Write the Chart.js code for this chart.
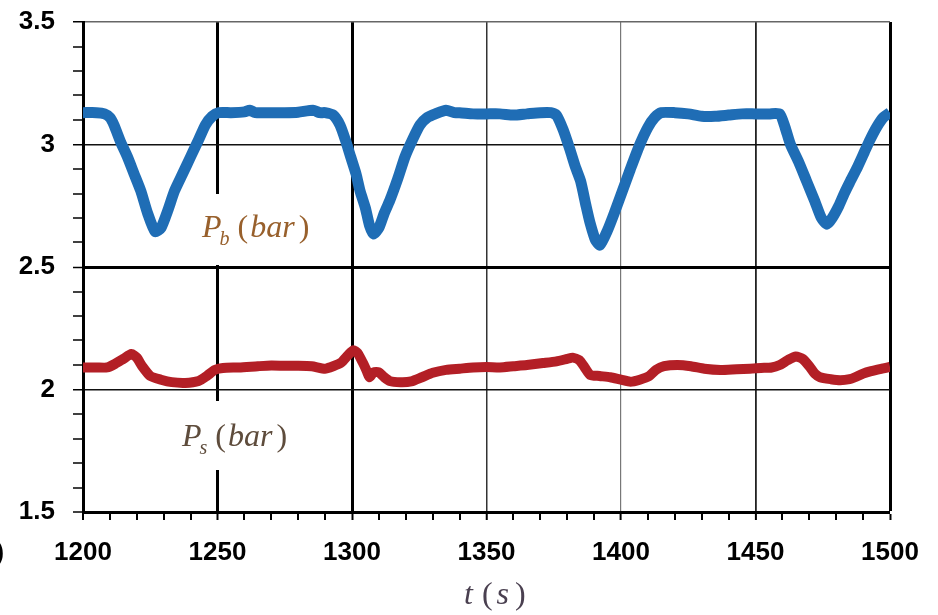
<!DOCTYPE html>
<html>
<head>
<meta charset="utf-8">
<script src="https://cdn.jsdelivr.net/npm/chart.js@4.4.1/dist/chart.umd.min.js"></script>
<style>
  html, body { margin: 0; padding: 0; background: #fff; }
  #wrap { width: 938px; height: 615px; position: relative; }
</style>
</head>
<body>
<div id="wrap"><canvas id="chart" width="938" height="615"></canvas></div>
<script>
// Pression P_b (courbe bleue) : temps (s) et valeurs (bar)
const pbTime = [
  1200, 1205, 1208, 1210, 1211.5, 1214, 1216.5, 1219, 1221.5, 1224, 1226.8, 1229, 1231.5, 1234, 1237, 1240, 1243, 1245.5, 1248, 1250.5,
  1255, 1260, 1262, 1264, 1270, 1275, 1280, 1285.5, 1288, 1290, 1293, 1295.5, 1297.5, 1299.5, 1301.5, 1303, 1305, 1306.5, 1308,
  1310, 1312, 1314, 1317, 1319.7, 1322.5, 1325.3, 1328, 1331, 1335, 1338, 1340, 1345, 1350, 1355, 1360, 1365, 1370, 1374, 1376,
  1378.5, 1381, 1383, 1385, 1387, 1388.5, 1390.5, 1392.2, 1395, 1397.5, 1400.5, 1403.5, 1407, 1410, 1412.5, 1415, 1420, 1425,
  1430, 1435, 1440, 1445, 1450, 1455, 1459, 1461, 1463, 1466, 1469, 1472, 1474.5, 1476.6, 1478.5, 1481, 1483, 1485, 1488, 1490.5,
  1492.6, 1495, 1497.5, 1500
];
const pbValue = [
  3.13, 3.13, 3.125, 3.11, 3.08, 3.01, 2.95, 2.88, 2.81, 2.72, 2.645, 2.66, 2.73, 2.81, 2.88, 2.95, 3.02, 3.08, 3.115, 3.13,
  3.13, 3.133, 3.14, 3.13, 3.13, 3.13, 3.132, 3.14, 3.13, 3.13, 3.12, 3.08, 3.02, 2.95, 2.88, 2.81, 2.74, 2.67, 2.635,
  2.66, 2.72, 2.77, 2.86, 2.95, 3.02, 3.08, 3.11, 3.125, 3.14, 3.13, 3.13, 3.125, 3.125, 3.125, 3.12, 3.125, 3.13, 3.13, 3.12,
  3.06, 2.98, 2.91, 2.85, 2.75, 2.68, 2.61, 2.59, 2.65, 2.72, 2.81, 2.9, 3.0, 3.07, 3.11, 3.13, 3.13, 3.125,
  3.115, 3.115, 3.12, 3.125, 3.125, 3.125, 3.125, 3.07, 3.0, 2.93, 2.85, 2.77, 2.7, 2.675, 2.7, 2.75, 2.8, 2.845, 2.91, 2.97,
  3.02, 3.07, 3.11, 3.13
];

// Pression P_s (courbe rouge)
const psTime = [
  1200, 1205, 1209, 1212, 1215, 1218, 1220, 1222, 1225, 1229, 1233, 1238, 1243, 1246, 1249, 1252, 1258, 1265, 1270, 1275, 1280,
  1285, 1290, 1293, 1296, 1298.5, 1300.5, 1302, 1304, 1305.5, 1306.5, 1308, 1310, 1312, 1314, 1318, 1322, 1326, 1330, 1335,
  1340, 1345, 1350, 1355, 1360, 1365, 1371, 1376, 1380, 1382, 1384.5, 1386.5, 1388.5, 1392, 1396, 1400, 1403.5, 1407, 1410.5,
  1413, 1416, 1421, 1426, 1431, 1437, 1443, 1448, 1452, 1456, 1459, 1462, 1465, 1467.5, 1470, 1472, 1474, 1478, 1481.5, 1485,
  1487, 1490, 1493, 1497, 1500
];
const psValue = [
  2.09, 2.09, 2.09, 2.105, 2.125, 2.145, 2.13, 2.095, 2.055, 2.04, 2.03, 2.027, 2.035, 2.055, 2.08, 2.088, 2.09, 2.095, 2.098, 2.097, 2.097,
  2.095, 2.085, 2.095, 2.11, 2.14, 2.16, 2.15, 2.11, 2.075, 2.05, 2.07, 2.07, 2.05, 2.035, 2.03, 2.033, 2.05, 2.068, 2.08,
  2.085, 2.09, 2.092, 2.09, 2.095, 2.1, 2.108, 2.115, 2.125, 2.13, 2.12, 2.09, 2.06, 2.055, 2.05, 2.04, 2.032, 2.04, 2.055,
  2.08, 2.095, 2.1, 2.095, 2.085, 2.08, 2.083, 2.085, 2.088, 2.09, 2.1, 2.12, 2.135, 2.125, 2.095, 2.065, 2.05, 2.042, 2.038, 2.042,
  2.05, 2.065, 2.075, 2.085, 2.092
];

// Graduations
const xMajorTicks = [1200, 1250, 1300, 1350, 1400, 1450, 1500];
const yMajorTicks = [1.5, 2, 2.5, 3, 3.5];

const toPoints = (xs, ys) => xs.map((x, i) => ({ x: x, y: ys[i] }));

// épaisseur / couleur des lignes de grille
const xGridWidth = { 1250: 3, 1300: 3, 1350: 1.5, 1400: 1.2, 1450: 1.8, 1500: 3 };
const xGridColor = { 1250: '#000', 1300: '#000', 1350: '#333', 1400: '#777', 1450: '#222', 1500: '#000' };
const yGridWidth = { '3.5': 1.5, '3': 1.5, '2.5': 3, '2': 1.5 };
const yGridColor = { '3.5': '#666', '3': '#111', '2.5': '#000', '2': '#111' };

const isMajor = (v, list) => list.some(m => Math.abs(m - v) < 1e-6);
const keyOf = v => String(Math.round(v * 10) / 10);

// Texte type équation : [texte, italique, taille, décalage vertical, espace avant]
function drawRichText(ctx, x, y, parts, color) {
  ctx.save();
  ctx.fillStyle = color;
  ctx.textBaseline = 'alphabetic';
  ctx.textAlign = 'left';
  let cx = x;
  parts.forEach(p => {
    ctx.font = (p[1] ? 'italic ' : '') + p[2] + 'px "Liberation Serif"';
    ctx.fillText(p[0], cx + (p[4] || 0), y + p[3]);
    cx += ctx.measureText(p[0]).width + (p[4] || 0);
  });
  ctx.restore();
}

const annotations = {
  id: 'annotations',
  beforeDatasetsDraw(chart) {
    const ctx = chart.ctx;
    ctx.save();
    ctx.fillStyle = '#fff';
    // fonds blancs derrière les étiquettes
    ctx.fillRect(195, 194, 125, 71);
    ctx.fillRect(175, 401, 130, 69);
    ctx.restore();
  },
  afterDraw(chart) {
    const ctx = chart.ctx;
    drawRichText(ctx, 202, 237, [
      ['P', true, 32, 0], ['b', true, 20, 8, -2], ['(', false, 32, 0, 8], ['bar', true, 32, 0, 2], [')', false, 32, 0, 4]
    ], '#98602c');
    drawRichText(ctx, 182, 446, [
      ['P', true, 32, 0], ['s', true, 20, 8, -2], ['(', false, 32, 0, 8], ['bar', true, 32, 0, 2], [')', false, 32, 0, 4]
    ], '#5e4c3c');
    drawRichText(ctx, 464, 604, [
      ['t', true, 32, 0], ['(', false, 32, 0, 9], ['s', true, 32, 0, 4], [')', false, 32, 0, 6]
    ], '#4a4050');
    // bord gauche coupé "(b)"
    ctx.save();
    ctx.fillStyle = '#000';
    ctx.font = 'bold 24px "Liberation Sans"';
    ctx.textAlign = 'right';
    ctx.textBaseline = 'alphabetic';
    ctx.fillText('(b)', 4, 560);
    ctx.restore();
  }
};

new Chart(document.getElementById('chart'), {
  type: 'line',
  data: {
    datasets: [
      {
        label: 'Pb',
        data: toPoints(pbTime, pbValue),
        borderColor: '#1f6db5',
        borderWidth: 11,
        pointRadius: 0,
        tension: 0.2,
        fill: false
      },
      {
        label: 'Ps',
        data: toPoints(psTime, psValue),
        borderColor: '#b31f26',
        borderWidth: 10,
        pointRadius: 0,
        tension: 0.2,
        fill: false
      }
    ]
  },
  options: {
    responsive: false,
    animation: false,
    devicePixelRatio: 1,
    layout: { padding: { top: 22, right: 48, left: 0, bottom: 0 } },
    plugins: { legend: { display: false }, tooltip: { enabled: false } },
    scales: {
      x: {
        type: 'linear',
        min: 1200,
        max: 1500,
        afterFit: scale => {
          scale.height = 103;
          scale.paddingLeft = 0;
          scale.paddingRight = 0;
        },
        ticks: {
          stepSize: 10,
          autoSkip: false,
          maxRotation: 0,
          padding: 17,
          color: '#000',
          font: { family: '"Liberation Sans"', size: 26, weight: 'bold' },
          callback: v => (isMajor(v, xMajorTicks) ? v : '')
        },
        grid: {
          tickLength: 8,
          tickColor: '#000',
          tickWidth: 2,
          lineWidth: c => (c.tick ? (xGridWidth[c.tick.value] || 0) : 0),
          color: c => (c.tick ? (xGridColor[c.tick.value] || '#000') : '#000')
        },
        border: { color: '#000', width: 3 }
      },
      y: {
        min: 1.5,
        max: 3.5,
        afterFit: scale => {
          scale.width = 83;
          scale.paddingTop = 0;
          scale.paddingBottom = 0;
        },
        ticks: {
          stepSize: 0.1,
          autoSkip: false,
          padding: 18,
          color: '#000',
          font: { family: '"Liberation Sans"', size: 26, weight: 'bold' },
          callback: v => (isMajor(v, yMajorTicks) ? String(Math.round(v * 10) / 10) : '')
        },
        grid: {
          tickLength: 10,
          tickColor: '#000',
          tickWidth: 1.5,
          lineWidth: c => (c.tick ? (yGridWidth[keyOf(c.tick.value)] || 0) : 0),
          color: c => (c.tick ? (yGridColor[keyOf(c.tick.value)] || '#000') : '#000')
        },
        border: { color: '#000', width: 3 }
      }
    }
  },
  plugins: [annotations]
});
</script>
</body>
</html>
